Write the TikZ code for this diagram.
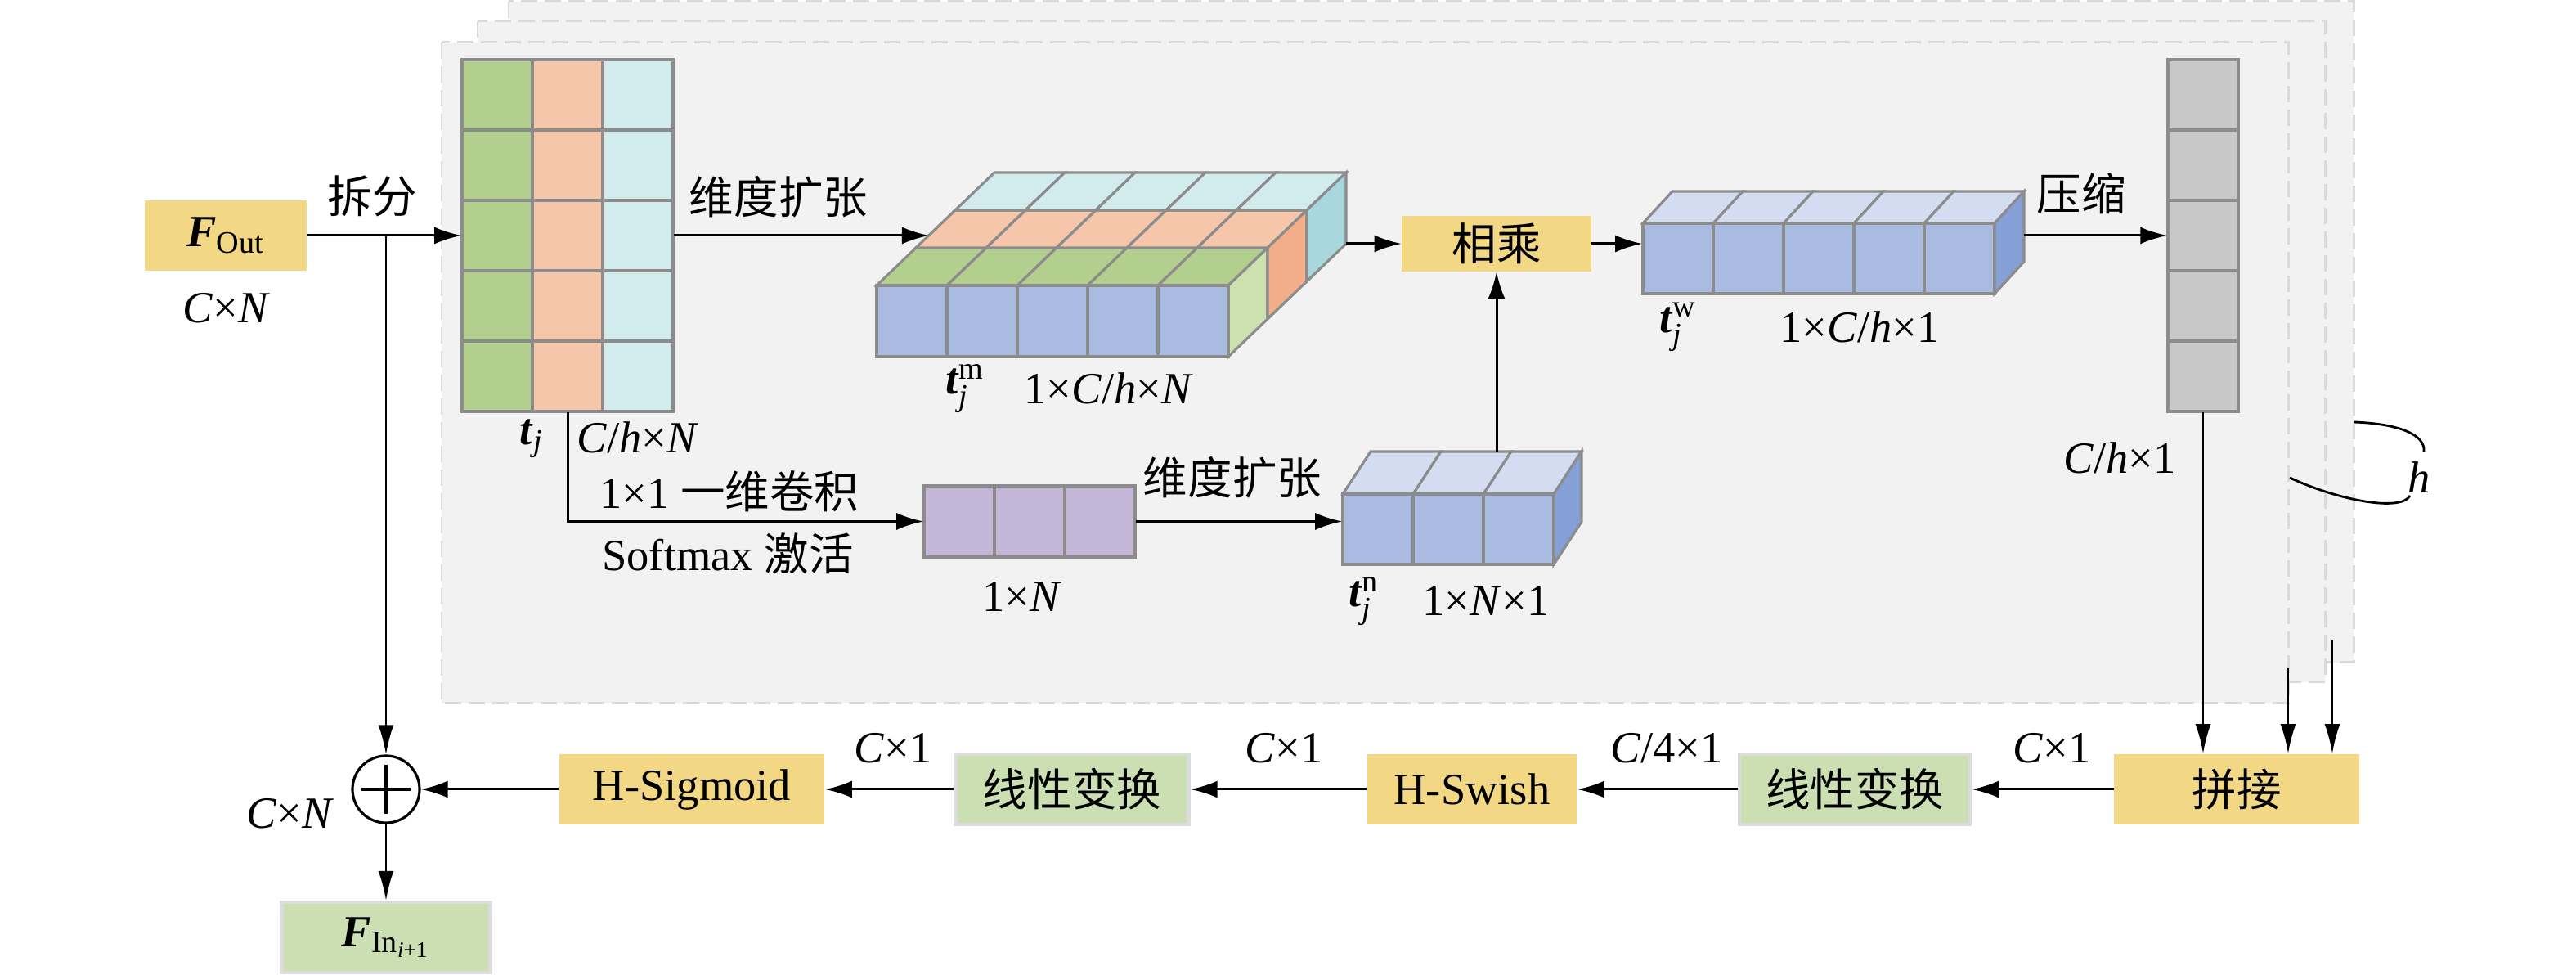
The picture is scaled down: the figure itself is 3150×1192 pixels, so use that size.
\documentclass[tikz,border=0pt]{standalone}
\usepackage{amsmath}
\usepackage{fontspec}
\setmainfont{Liberation Serif}
\newfontfamily\zhfont{Noto Sans CJK SC}
\usepackage{xcolor}
\usetikzlibrary{arrows.meta}

\definecolor{cgreen}{HTML}{B3CF8E}
\definecolor{corange}{HTML}{F5C6AA}
\definecolor{ccyan}{HTML}{D2ECEE}
\definecolor{sgreen}{HTML}{CCE0B0}
\definecolor{sorange}{HTML}{F2AE88}
\definecolor{scyan}{HTML}{A8D8DE}
\definecolor{bfront}{HTML}{A9BBE1}
\definecolor{btop}{HTML}{D3DCF0}
\definecolor{bside}{HTML}{85A0D6}
\definecolor{cpurple}{HTML}{C3B6D6}
\definecolor{cgray}{HTML}{C8C8C8}
\definecolor{cellgray}{HTML}{8C8C8C}
\definecolor{boxyellow}{HTML}{F2D785}
\definecolor{boxgreen}{HTML}{CBDFB2}
\definecolor{boxedge}{HTML}{DCDCDC}
\definecolor{panelfill}{HTML}{F2F2F2}
\definecolor{paneledge}{HTML}{DADADA}

\begin{document}
\begin{tikzpicture}[x=0.01cm, y=-0.01cm,
  every node/.style={font=\fontsize{15.5}{18}\selectfont, inner sep=1pt},
  cell/.style={draw=cellgray, line width=0.9pt},
  panel/.style={fill=panelfill, draw=paneledge, line width=0.85pt, dash pattern=on 0.2cm off 0.09cm},
  ybox/.style={fill=boxyellow, inner sep=0pt},
  gbox/.style={fill=boxgreen, draw=boxedge, line width=1.2pt, inner sep=0pt},
  frame/.style={inner sep=0pt},
  arr/.style={line width=0.85pt, -{Latex[length=0.33cm, width=0.21cm]}},
  varr/.style={line width=0.75pt, -{Latex[length=0.36cm, width=0.19cm]}}]

\useasboundingbox (0,0) rectangle (3150,1192);

% h stacked heads
\draw[panel] (622,2) rectangle (2878,810);
\draw[panel] (584,26) rectangle (2843,834);
\draw[panel] (540,52) rectangle (2798,860);

% input and split
\node[ybox, minimum width=1.98cm, minimum height=0.85cm] (fout) at (276,288) {$\textbf{\textit{F}}_{\textrm{Out}}$};
\node (lcn) at (277,377) {\textit{C}×\textit{N}};
\node (lsplit) at (455,240) {{\zhfont 拆分}};
\coordinate (split) at (472,288);

\foreach \c/\col in {0/cgreen,1/corange,2/ccyan}
  \foreach \r in {0,...,4}
    \draw[cell, fill=\col] (565+86*\c,73+86*\r) rectangle ++(86,86);
\node[frame, minimum width=2.58cm, minimum height=4.3cm] (tj) at (694,288) {};
\node (ltj) at (650,536) {$\textbf{\textit{t}}_{\textit{j}}$};
\node (ltjd) at (780,535) {\textit{C}/\textit{h}×\textit{N}};
\draw[arr] (fout.east) -- (tj.west);

% t_j^m
\foreach \k/\col/\side in {0/cgreen/sgreen,1/corange/sorange,2/ccyan/scyan}{
  \foreach \i in {0,...,4}
    \draw[cell, fill=\col] (1072+86*\i+48*\k,349-46*\k) --++(86,0) --++(48,-46) --++(-86,0) -- cycle;
  \draw[cell, fill=\side] (1502+48*\k,349-46*\k) --++(48,-46) --++(0,87) --++(-48,46) -- cycle;
}
\foreach \i in {0,...,4}
  \draw[cell, fill=bfront] (1072+86*\i,349) rectangle ++(86,87);
\coordinate (tmin) at (1136,288);
\coordinate (tmout) at (1646,298);
\node (lexpa) at (952,241) {{\zhfont 维度扩张}};
\node (ltm) at (1180,475) {$\textbf{\textit{t}}^{\textrm{m}}_{\textit{j}}$};
\node (ltmd) at (1356,475) {1×\textit{C}/\textit{h}×\textit{N}};
\draw[arr] (tj.east) -- (tmin);

\node[ybox, minimum width=2.31cm, minimum height=0.67cm] (mul) at (1830,298) {{\zhfont 相乘}};
\draw[arr] (tmout) -- (mul.west);

% t_j^w
\foreach \i in {0,...,4}{
  \draw[cell, fill=btop] (2009+86*\i,273) --++(86,0) --++(36,-39) --++(-86,0) -- cycle;
  \draw[cell, fill=bfront] (2009+86*\i,273) rectangle ++(86,86);
}
\draw[cell, fill=bside] (2439,273) --++(36,-39) --++(0,86) --++(-36,39) -- cycle;
\node[frame, minimum width=4.3cm, minimum height=0.86cm] (tw) at (2224,316) {};
\coordinate (twout) at (2475,288);
\node (ltw) at (2052,400) {$\textbf{\textit{t}}^{\textrm{w}}_{\textit{j}}$};
\node (ltwd) at (2274,400) {1×\textit{C}/\textit{h}×1};
\draw[arr] (mul.east) -- (mul.east -| tw.west);

% squeezed column
\foreach \r in {0,...,4}
  \draw[cell, fill=cgray] (2651,73+86*\r) rectangle ++(86,86);
\node[frame, minimum width=0.86cm, minimum height=4.3cm] (gc) at (2694,288) {};
\node (lsq) at (2545,237) {{\zhfont 压缩}};
\node (lgc) at (2592,560) {\textit{C}/\textit{h}×1};
\draw[arr] (twout) -- (gc.west);

% lower branch
\foreach \i in {0,1,2}
  \draw[cell, fill=cpurple] (1130+86*\i,594) rectangle ++(86,87);
\node[frame, minimum width=2.58cm, minimum height=0.87cm] (soft) at (1259,637.5) {};
\node (lconv) at (892,601) {1×1 {\zhfont 一维卷积}};
\node (lsoft) at (890,677) {Softmax {\zhfont 激活}};
\node (l1n) at (1250,730) {1×\textit{N}};
\draw[arr] (tj.south) |- (soft.west);

\foreach \i in {0,1,2}{
  \draw[cell, fill=btop] (1642+86*\i,604) --++(86,0) --++(34,-52) --++(-86,0) -- cycle;
  \draw[cell, fill=bfront] (1642+86*\i,604) rectangle ++(86,86);
}
\draw[cell, fill=bside] (1900,604) --++(34,-52) --++(0,86) --++(-34,52) -- cycle;
\node[frame, minimum width=2.58cm, minimum height=0.86cm] (tn) at (1771,647) {};
\coordinate (tntop) at (1830,552);
\node (lexpb) at (1507,584) {{\zhfont 维度扩张}};
\node (ltn) at (1668,735) {$\textbf{\textit{t}}^{\textrm{n}}_{\textit{j}}$};
\node (ltnd) at (1817,735) {1×\textit{N}×1};
\draw[arr] (soft.east) -- (soft.east -| tn.west);
\draw[arr] (tntop) -- (mul.south);

% h bracket
\draw[line width=0.8pt] (2878,516) .. controls (2935,518) and (2966,532) .. (2964,552);
\draw[line width=0.8pt] (2800,584) .. controls (2860,612) and (2936,626) .. (2947,606);
\node (lh) at (2958,584) {\textit{h}};

% output row
\node[ybox, minimum width=2.99cm, minimum height=0.86cm] (cat) at (2735,965) {{\zhfont 拼接}};
\node[gbox, minimum width=2.82cm, minimum height=0.86cm] (lin2) at (2268,965) {{\zhfont 线性变换}};
\node[ybox, minimum width=2.56cm, minimum height=0.85cm] (hsw) at (1800,965) {H-Swish};
\node[gbox, minimum width=2.85cm, minimum height=0.86cm] (lin1) at (1311,965) {{\zhfont 线性变换}};
\node[ybox, minimum width=3.24cm, minimum height=0.85cm] (hsig) at (846,965) {H-Sigmoid};
\node[draw, circle, line width=0.9pt, minimum size=0.82cm, inner sep=0pt] (plus) at (472,965) {};
\draw[line width=1.4pt] ([xshift=-0.3cm]plus.center) -- ([xshift=0.3cm]plus.center);
\draw[line width=1.4pt] ([yshift=-0.3cm]plus.center) -- ([yshift=0.3cm]plus.center);
\node[gbox, minimum width=2.55cm, minimum height=0.86cm] (fin) at (472,1146) {$\textbf{\textit{F}}_{\textrm{In}_{\textit{i}\textrm{+1}}}$};

\node (lc1a) at (2509,915) {\textit{C}×1};
\node (lc4) at (2038,915) {\textit{C}/4×1};
\node (lc1b) at (1570,915) {\textit{C}×1};
\node (lc1c) at (1092,915) {\textit{C}×1};
\node (lcn2) at (355,995) {\textit{C}×\textit{N}};

\coordinate (hb) at (2798,817);
\coordinate (hc) at (2852,782);
\draw[varr] (gc.south) -- (gc.south |- cat.north);
\draw[varr] (hb) -- (hb |- cat.north);
\draw[varr] (hc) -- (hc |- cat.north);

\draw[arr] (cat.west) -- (lin2.east);
\draw[arr] (lin2.west) -- (hsw.east);
\draw[arr] (hsw.west) -- (lin1.east);
\draw[arr] (lin1.west) -- (hsig.east);
\draw[arr] (hsig.west) -- (plus.east);
\draw[varr] (split) -- (plus.north);
\draw[varr] (plus.south) -- (fin.north);
\end{tikzpicture}
\end{document}
